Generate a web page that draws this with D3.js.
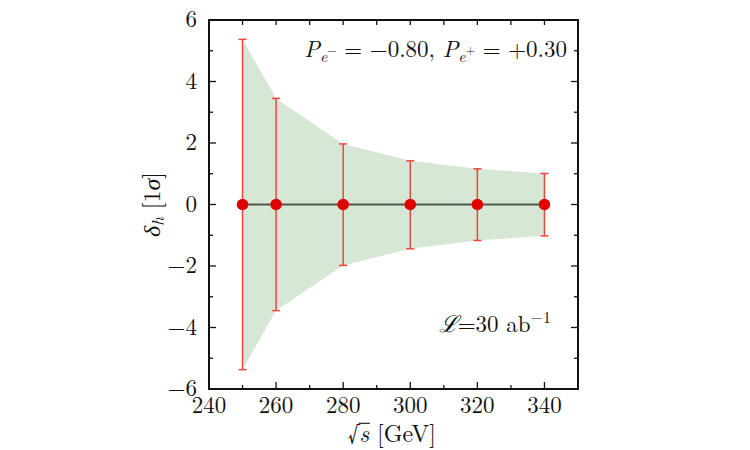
<!DOCTYPE html>
<html>
<head>
<meta charset="utf-8">
<script src="https://cdn.jsdelivr.net/npm/d3@7"></script>
<style>
  body { margin: 0; background: #fff; }
</style>
</head>
<body>
<div id="chart"></div>
<script>
// Data
const energies = [250, 260, 280, 300, 320, 340];
const centralValues = [0, 0, 0, 0, 0, 0];
const errUp = [5.37, 3.45, 1.97, 1.42, 1.16, 1.01];
const errDown = [5.37, 3.45, 1.98, 1.44, 1.17, 1.02];
const xTicks = [240, 260, 280, 300, 320, 340];
const yTicks = [-6, -4, -2, 0, 2, 4, 6];

const FONT = "'Latin Modern Roman', 'Liberation Serif', serif";

const svgWidth = 750, svgHeight = 450;
const margin = { top: 20, right: 172, bottom: 61, left: 209 };
const width = svgWidth - margin.left - margin.right;
const height = svgHeight - margin.top - margin.bottom;

const svg = d3.select("#chart").append("svg")
  .attr("width", svgWidth).attr("height", svgHeight);
const g = svg.append("g").attr("transform", `translate(${margin.left},${margin.top})`);

function label(sel, size) {
  return sel.style("font-family", FONT).style("font-size", size + "px").attr("fill", "#111");
}

// Scales
const x = d3.scaleLinear().domain([240, 350]).range([0, width]);
const y = d3.scaleLinear().domain([-6, 6]).range([height, 0]);

const points = energies.map((e, i) => ({
  e, v: centralValues[i], hi: centralValues[i] + errUp[i], lo: centralValues[i] - errDown[i]
}));

// Band
const area = d3.area().x(d => x(d.e)).y0(d => y(d.lo)).y1(d => y(d.hi));
g.append("path").datum(points).attr("d", area).attr("fill", "#d7e7d6");

// Zero line
g.append("line")
  .attr("x1", x(250)).attr("x2", x(340))
  .attr("y1", y(0)).attr("y2", y(0))
  .attr("stroke", "#4d5a4d").attr("stroke-width", 2);

// Error bars
const eb = g.append("g").attr("stroke", "#f2453a").attr("stroke-width", 1.5);
eb.selectAll(".bar").data(points).join("line")
  .attr("x1", d => x(d.e)).attr("x2", d => x(d.e))
  .attr("y1", d => y(d.hi)).attr("y2", d => y(d.lo));
eb.selectAll(".capHi").data(points).join("line")
  .attr("x1", d => x(d.e) - 4).attr("x2", d => x(d.e) + 4)
  .attr("y1", d => y(d.hi)).attr("y2", d => y(d.hi));
eb.selectAll(".capLo").data(points).join("line")
  .attr("x1", d => x(d.e) - 4).attr("x2", d => x(d.e) + 4)
  .attr("y1", d => y(d.lo)).attr("y2", d => y(d.lo));

// Points
g.selectAll(".pt").data(points).join("circle")
  .attr("cx", d => x(d.e)).attr("cy", d => y(d.v)).attr("r", 5.8)
  .attr("fill", "#e00000");

// Axes: ticks inward on all four sides
const xMinor = d3.range(240, 351, 10);
const yMinor = d3.range(-6, 6.1, 1);
const isMajorX = v => v % 20 === 0 && v <= 340;
const isMajorY = v => v % 2 === 0;
const ticks = g.append("g").attr("stroke", "#111").attr("stroke-width", 1.3);
xMinor.forEach(v => {
  const len = isMajorX(v) ? 7 : 4;
  ticks.append("line").attr("x1", x(v)).attr("x2", x(v)).attr("y1", height).attr("y2", height - len);
  ticks.append("line").attr("x1", x(v)).attr("x2", x(v)).attr("y1", 0).attr("y2", 5);
});
yMinor.forEach(v => {
  const len = isMajorY(v) ? 7 : 4;
  ticks.append("line").attr("x1", 0).attr("x2", len).attr("y1", y(v)).attr("y2", y(v));
  ticks.append("line").attr("x1", width).attr("x2", width - len).attr("y1", y(v)).attr("y2", y(v));
});

// Frame
g.append("rect").attr("width", width).attr("height", height)
  .attr("fill", "none").attr("stroke", "#111").attr("stroke-width", 2);

// Tick labels
g.selectAll(".xl").data(xTicks).join("text")
  .call(label, 23)
  .attr("x", d => x(d)).attr("y", height + 24)
  .attr("text-anchor", "middle")
  .text(d => d);
g.selectAll(".yl").data(yTicks).join("text")
  .call(label, 23)
  .attr("x", -12).attr("y", d => y(d) + 7)
  .attr("text-anchor", "end")
  .text(d => d3.format("")(d).replace("-", "\u2212"));

// Axis titles
const titleSize = 24, titleBase = 442;
const xt = svg.append("text").call(label, titleSize)
  .attr("x", margin.left + x(294.5)).attr("y", titleBase)
  .attr("text-anchor", "middle");
xt.append("tspan").text("\u221A");
xt.append("tspan").attr("font-style", "italic").text("s");
xt.append("tspan").text(" [GeV]");
const xn = xt.node();
const radEnd = xn.getEndPositionOfChar(0).x;
const sEnd = xn.getEndPositionOfChar(1).x;
svg.append("line")
  .attr("x1", radEnd - 0.5).attr("x2", sEnd + 1)
  .attr("y1", titleBase - titleSize * 0.78).attr("y2", titleBase - titleSize * 0.78)
  .attr("stroke", "#111").attr("stroke-width", 1.1);

const yt = svg.append("text").call(label, 24)
  .attr("transform", `translate(160,${margin.top + y(0)}) rotate(-90)`)
  .attr("text-anchor", "middle");
yt.append("tspan").attr("font-style", "italic").text("\u03B4");
yt.append("tspan").attr("font-style", "italic").style("font-size", "17px").attr("dy", 4).text("h");
yt.append("tspan").attr("dy", -4).text(" [1");
yt.append("tspan").attr("font-style", "italic").text("\u03C3");
yt.append("tspan").text("]");

// Annotations
const pol = g.append("text").call(label, 23)
  .attr("x", width - 11).attr("y", 37)
  .attr("text-anchor", "end");
pol.append("tspan").attr("font-style", "italic").text("P");
pol.append("tspan").attr("font-style", "italic").style("font-size", "16px").attr("dy", 5).text("e");
pol.append("tspan").style("font-size", "12px").attr("dy", -8).text("\u2212");
pol.append("tspan").attr("dy", 3).text(" = \u22120.80, ");
pol.append("tspan").attr("font-style", "italic").text("P");
pol.append("tspan").attr("font-style", "italic").style("font-size", "16px").attr("dy", 5).text("e");
pol.append("tspan").style("font-size", "12px").attr("dy", -8).text("+");
pol.append("tspan").attr("dy", 3).text(" = +0.30");

const lum = g.append("text").call(label, 23)
  .attr("x", width - 27).attr("y", 312)
  .attr("text-anchor", "end");
lum.append("tspan").attr("font-style", "italic").text("\u2112");
lum.append("tspan").text("=30 ab");
lum.append("tspan").style("font-size", "16px").attr("dy", -9).text("\u22121");
</script>
</body>
</html>
